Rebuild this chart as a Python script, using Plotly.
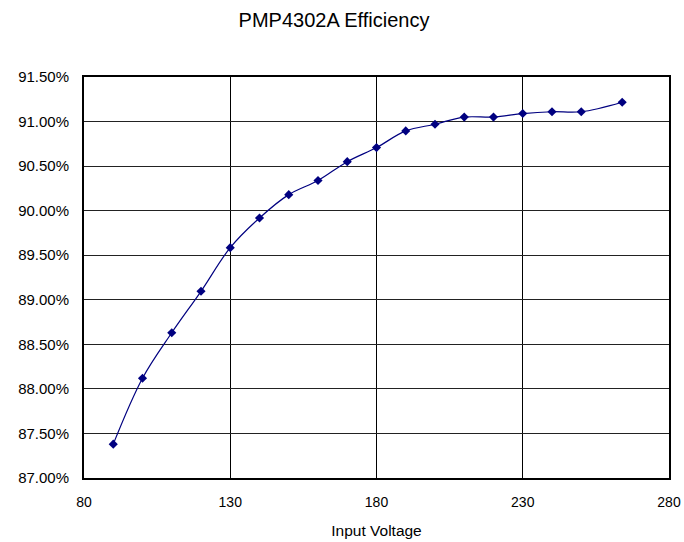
import plotly.graph_objects as go

voltage = [90, 100, 110, 120, 130, 140, 150, 160, 170, 180, 190, 200, 210, 220, 230, 240, 250, 264]
efficiency = [87.38, 88.12, 88.63, 89.095, 89.585, 89.918, 90.18, 90.338, 90.55, 90.708,
              90.895, 90.97, 91.05, 91.05, 91.09, 91.11, 91.11, 91.217]

y_ticks = [87.0, 87.5, 88.0, 88.5, 89.0, 89.5, 90.0, 90.5, 91.0, 91.5]
y_tick_labels = ["%.2f%%" % v for v in y_ticks]
x_ticks = [80, 130, 180, 230, 280]

fig = go.Figure()
fig.add_trace(go.Scatter(
    x=voltage, y=efficiency, mode="lines+markers",
    line=dict(color="#000080", width=1.2, shape="spline", smoothing=1.0),
    marker=dict(symbol="diamond", size=7, color="#000080"),
    showlegend=False,
))

fig.update_layout(
    width=684, height=542,
    margin=dict(l=84, r=15, t=77, b=64, autoexpand=False),
    paper_bgcolor="white", plot_bgcolor="white",
    font=dict(family="Liberation Sans, Arial, sans-serif", color="black", size=13),
    title=dict(text="PMP4302A Efficiency", x=334/684, xanchor="center", xref="container",
               y=1 - 20/542, yanchor="middle", yref="container", automargin=False,
               font=dict(size=20, color="black")),
    xaxis=dict(range=[80, 280], tickvals=x_ticks, ticktext=[str(v) for v in x_ticks],
               automargin=False, tickfont=dict(size=14),
               showgrid=True, gridcolor="black", gridwidth=1,
               showline=True, linecolor="black", linewidth=2, mirror=True,
               ticks="outside", ticklen=10, tickcolor="rgba(0,0,0,0)", zeroline=False,
               title=dict(text="Input Voltage", font=dict(size=15.5), standoff=16)),
    yaxis=dict(range=[87.0, 91.5], tickvals=y_ticks, ticktext=y_tick_labels,
               automargin=False, tickfont=dict(size=15),
               showgrid=True, gridcolor="#222222", gridwidth=1,
               showline=True, linecolor="black", linewidth=2, mirror=True,
               ticks="outside", ticklen=10, tickcolor="rgba(0,0,0,0)", zeroline=False),
)

fig.write_html("out.html", config={"displayModeBar": False},
               post_script="document.body.style.margin='0';document.body.style.overflow='hidden';")
